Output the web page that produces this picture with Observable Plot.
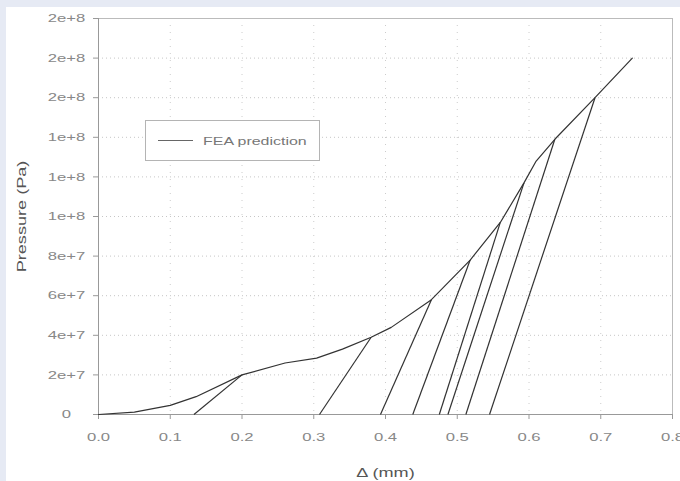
<!DOCTYPE html>
<html><head><meta charset="utf-8">
<script src="https://cdn.jsdelivr.net/npm/d3@7"></script>
<script src="https://cdn.jsdelivr.net/npm/@observablehq/plot@0.6"></script>
<style>
html,body{margin:0;padding:0;background:#e6eaf4;width:680px;height:481px;overflow:hidden;}
#panel{position:absolute;left:6px;top:7px;width:674px;height:474px;background:#fff;overflow:hidden;}
#legend{position:absolute;left:139px;top:113px;width:173px;height:39px;border:1px solid #b4b4b4;background:#fff;font-family:"Liberation Sans",Arial,sans-serif;font-size:11px;color:#777;}
#legend .sw{position:absolute;left:12px;top:19px;width:35px;height:1px;background:#666;}
#legend .lb{position:absolute;left:57px;top:12px;line-height:16px;white-space:nowrap;transform:scaleX(1.45);transform-origin:0 50%;}
</style></head><body>
<div id="panel"></div>
<script>
// FEA loading curve
const curveX = [0, 0.05, 0.1, 0.136, 0.2, 0.26, 0.304, 0.34, 0.38, 0.408, 0.464, 0.518, 0.56, 0.593, 0.61, 0.636, 0.692, 0.744];
const curveY = [0, 1.2e6, 4.6e6, 9e6, 2e7, 2.6e7, 2.85e7, 3.3e7, 3.9e7, 4.4e7, 5.8e7, 7.8e7, 9.7e7, 1.17e8, 1.28e8, 1.39e8, 1.6e8, 1.8e8];
// Unloading lines: start on curve, end at zero pressure
const unloadTopX = [0.2, 0.38, 0.464, 0.518, 0.56, 0.593, 0.636, 0.692];
const unloadTopY = [2e7, 3.9e7, 5.8e7, 7.8e7, 9.7e7, 1.17e8, 1.39e8, 1.6e8];
const unloadEndX = [0.133, 0.308, 0.393, 0.438, 0.475, 0.487, 0.512, 0.545];

const xTicks = [0, 0.1, 0.2, 0.3, 0.4, 0.5, 0.6, 0.7, 0.8];
const xTickLabels = ["0.0", "0.1", "0.2", "0.3", "0.4", "0.5", "0.6", "0.7", "0.8"];
const yTicks = [0, 2e7, 4e7, 6e7, 8e7, 1e8, 1.2e8, 1.4e8, 1.6e8, 1.8e8, 2e8];
const yTickLabels = ["0", "2e+7", "4e+7", "6e+7", "8e+7", "1e+8", "1e+8", "1e+8", "2e+8", "2e+8", "2e+8"];

const seriesName = "FEA prediction";
const xTitle = "Δ (mm)";
const yTitle = "Pressure (Pa)";

const curve = curveX.map((x, i) => ({x, y: curveY[i]}));
const unload = unloadTopX.map((x, i) => ({x1: x, y1: unloadTopY[i], x2: unloadEndX[i], y2: 0}));
const lookup = (ticks, labels) => d => labels[ticks.findIndex(v => Math.abs(v - d) < 1e-9 * Math.max(1, Math.abs(v)))];

const chart = Plot.plot({
  width: 674,
  height: 474,
  marginLeft: 92,
  marginTop: 11,
  marginRight: 8,
  marginBottom: 67,
  style: {fontFamily: "'Liberation Sans', Arial, sans-serif", fontSize: "11.5px", background: "#fff", color: "#888"},
  x: {domain: [0, 0.8], label: xTitle, labelArrow: "none"},
  y: {domain: [0, 2e8], label: yTitle, labelArrow: "none"},
  marks: [
    Plot.gridY(yTicks.slice(1, -1), {stroke: "#c6c6c6", strokeOpacity: 1, strokeDasharray: "1,3"}),
    Plot.gridX(xTicks.slice(1, -1), {stroke: "#cccccc", strokeOpacity: 1, strokeDasharray: "1,6"}),
    Plot.frame({stroke: "#bbb"}),
    Plot.axisX({ticks: xTicks, tickSize: 5, tickPadding: 13, stroke: "#999", fill: "#888",
      tickFormat: lookup(xTicks, xTickLabels), label: xTitle, labelArrow: "none", labelAnchor: "center", labelOffset: 62}),
    Plot.axisY({ticks: yTicks, tickSize: 5, tickPadding: 27, textAnchor: "middle", stroke: "#999", fill: "#888",
      tickFormat: lookup(yTicks, yTickLabels), label: yTitle, labelArrow: "none", labelAnchor: "center", labelOffset: 81}),
    Plot.ruleX([0], {stroke: "#999"}),
    Plot.ruleY([0], {stroke: "#999"}),
    Plot.link(unload, {x1: "x1", y1: "y1", x2: "x2", y2: "y2", stroke: "#333", strokeWidth: 1.2}),
    Plot.line(curve, {x: "x", y: "y", stroke: "#333", strokeWidth: 1.2})
  ]
});

const svg = d3.select(chart);
// axis titles darker and slightly larger; no arrows
svg.selectAll('g[aria-label="x-axis label"], g[aria-label="y-axis label"]')
  .attr("font-size", "12.5px").attr("fill", "#555");
svg.selectAll('g[aria-label="x-axis label"] text, g[aria-label="y-axis label"] text').each(function () {
  this.textContent = this.textContent.replace(/\s*[→↑←↓]\s*/g, "").trim();
});
// horizontally stretched lettering, as in the reference
svg.selectAll("text").each(function () {
  const t = this.getAttribute("transform") || "";
  this.setAttribute("transform", (t + " scale(1.45,1)").trim());
});

const panel = document.getElementById("panel");
panel.appendChild(chart);
const legend = document.createElement("div");
legend.id = "legend";
legend.innerHTML = '<span class="sw"></span><span class="lb"></span>';
legend.querySelector(".lb").textContent = seriesName;
panel.appendChild(legend);
</script>
</body></html>
